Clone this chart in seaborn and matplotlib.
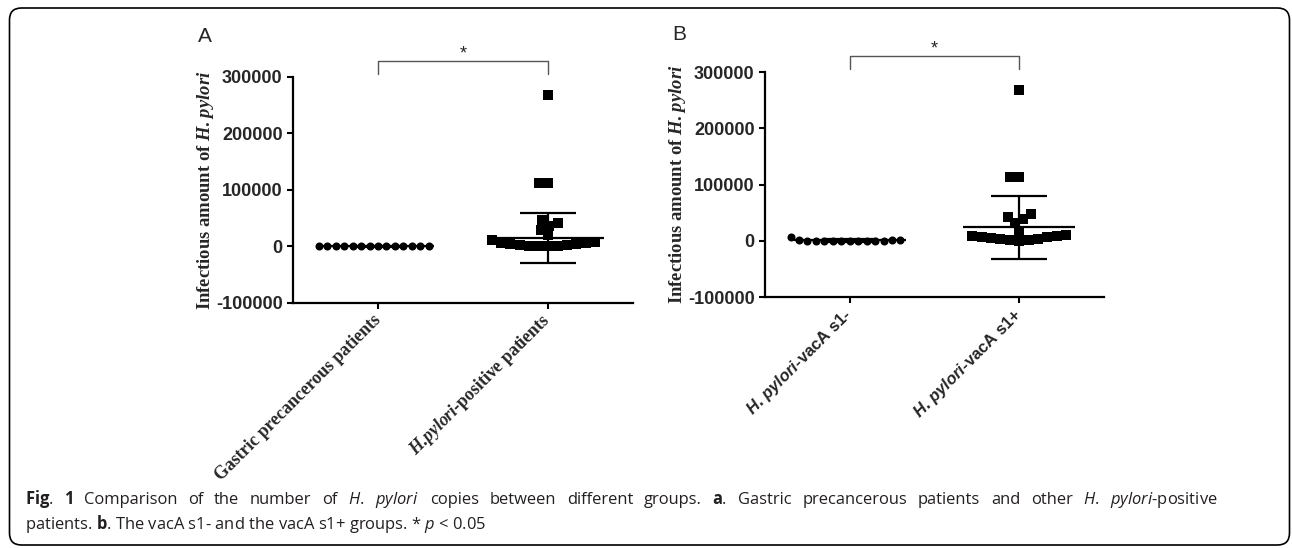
import numpy as np
import seaborn as sn
import matplotlib.pyplot as plt
from matplotlib.patches import FancyBboxPatch
from matplotlib.transforms import IdentityTransform

# panel A data
cats_a = ['Gastric precancerous patients', 'H.pylori-positive patients']
labels_a = ['Gastric precancerous patients', r'$\mathit{H}$.$\mathit{pylori}$-positive patients']
precancer_a = [0, 0, 100, 100, 200, 200, 300, 300, 400, 400, 500, 500, 600, 600]
positive_a = [268000, 113000, 112000, 47000, 42000, 37000, 30000, 20000, 12000,
              8000, 7000, 6000, 5000, 4000, 3000, 2000, 1500, 1000, 500, 0]
mean_a = [300, 15000]
sd_a = [800, 43500]

# panel B data
cats_b = ['H. pylori-vacA s1-', 'H. pylori-vacA s1+']
labels_b = [r'$\mathtt{H}$. $\mathtt{pylori}$-vacA s1-', r'$\mathtt{H}$. $\mathtt{pylori}$-vacA s1+']
s1neg_b = [6000, 0, 0, 100, 100, 200, 200, 300, 300, 400, 400, 500, 500, 600]
s1pos_b = [268000, 113000, 113000, 47000, 43000, 38000, 32000, 18000, 10000,
           9000, 8000, 7000, 6000, 5000, 4000, 3000, 2000, 1000, 0]
mean_b = [500, 24000]
sd_b = [2000, 56000]

yticks = [-100000, 0, 100000, 200000, 300000]
ytick_labels = ['-100000', '0', '100000', '200000', '300000']

sn.set_style('ticks')
plt.rcParams['mathtext.fontset'] = 'custom'
plt.rcParams['mathtext.it'] = 'Liberation Serif:italic:bold'
plt.rcParams['mathtext.tt'] = 'Liberation Sans:italic:bold'
plt.rcParams['mathtext.sf'] = 'Open Sans:italic'
plt.rcParams['mathtext.bf'] = 'Open Sans:bold'
plt.rcParams['mathtext.rm'] = 'Open Sans'

fig = plt.figure(figsize=(12.92, 5.48), dpi=100)
ax_a = fig.add_axes([0.2268, 0.4471, 0.2632, 0.4124])
ax_b = fig.add_axes([0.5921, 0.4580, 0.2624, 0.4106])

panels = [
    (ax_a, cats_a, labels_a, precancer_a, positive_a, mean_a, sd_a, 'Liberation Serif', 12.8),
    (ax_b, cats_b, labels_b, s1neg_b, s1pos_b, mean_b, sd_b, 'Liberation Sans', 12),
]

for ax, cats, labels, g1, g2, means, sds, xfont, xsize in panels:
    sn.swarmplot(x=[cats[0]] * len(g1), y=g1, order=cats, color='black', marker='o',
                 size=5.8, linewidth=0, ax=ax)
    sn.swarmplot(x=[cats[1]] * len(g2), y=g2, order=cats, color='black', marker='s',
                 size=6.5, linewidth=0, ax=ax)
    pos = np.arange(len(means))
    ax.hlines(means, pos - 0.33, pos + 0.33, color='black', lw=1.6, zorder=4)
    ax.errorbar(pos, means, yerr=sds, fmt='none', ecolor='black', elinewidth=1.6,
                capsize=20, capthick=1.6, zorder=4)

    ax.set_xlim(-0.5, 1.5)
    ax.set_ylim(-100000, 300000)
    ax.set_yticks(yticks)
    ax.set_yticklabels(ytick_labels, fontfamily='Liberation Sans', fontweight='bold', fontsize=13)
    ax.set_xticks(pos)
    ax.set_xticklabels(labels, rotation=45, ha='right', va='center', rotation_mode='anchor',
                       fontfamily=xfont, fontweight='bold', fontsize=xsize)
    ax.tick_params(axis='both', width=1.5, length=4.5, color='black', pad=3)
    ax.tick_params(axis='x', pad=6)
    for side in ['top', 'right']:
        ax.spines[side].set_visible(False)
    for side in ['left', 'bottom']:
        ax.spines[side].set_linewidth(1.6)
        ax.spines[side].set_color('black')
    ax.set_xlabel('')
    ax.set_ylabel(r'Infectious amount of $\mathit{H}$. $\mathit{pylori}$',
                  fontfamily='Liberation Serif', fontweight='bold', fontsize=13.4)
    ax.yaxis.set_label_coords(-0.226, 0.5)

    # significance bracket
    ax.plot([0, 0, 1, 1], [305000, 329000, 329000, 305000], color='#555555', lw=1,
            clip_on=False)
    ax.text(0.5, 333000, '*', ha='center', va='baseline', fontsize=13,
            fontfamily='Liberation Sans', clip_on=False)

fig.text(198 / 1292, 1 - 42 / 548, 'A', fontsize=15, fontfamily='Liberation Sans', va='baseline')
fig.text(672 / 1292, 1 - 40 / 548, 'B', fontsize=15, fontfamily='Liberation Sans', va='baseline')

# caption, first line justified to the text block width
cap1 = (r'$\mathbf{Fig}$. $\mathbf{1}$ Comparison of the number of $\mathsf{H}$. $\mathsf{pylori}$ '
        r'copies between different groups. $\mathbf{a}$. Gastric precancerous patients and other '
        r'$\mathsf{H}$. $\mathsf{pylori}$-positive')
cap2 = r'patients. $\mathbf{b}$. The vacA s1- and the vacA s1+ groups. * $\mathsf{p}$ < 0.05'
cap_style = dict(fontsize=11.9, fontfamily='Open Sans', color='#231f20', va='baseline')

renderer = fig.canvas.get_renderer()
words = cap1.split(' ')
word_texts = [fig.text(0, 1 - 504 / 548, w, **cap_style) for w in words]
widths = [t.get_window_extent(renderer).width for t in word_texts]
gap = (1218 - 25 - sum(widths)) / (len(words) - 1)
x = 25
for t, w in zip(word_texts, widths):
    t.set_x(x / 1292)
    x += w + gap
fig.text(25 / 1292, 1 - 529 / 548, cap2, **cap_style)

frame = FancyBboxPatch((9.5, 3), 1280, 537, boxstyle='round,pad=0,rounding_size=12',
                       transform=IdentityTransform(), fill=False, ec='black', lw=1.2)
fig.patches.append(frame)

fig.savefig('out.png', dpi=100, facecolor='white')
